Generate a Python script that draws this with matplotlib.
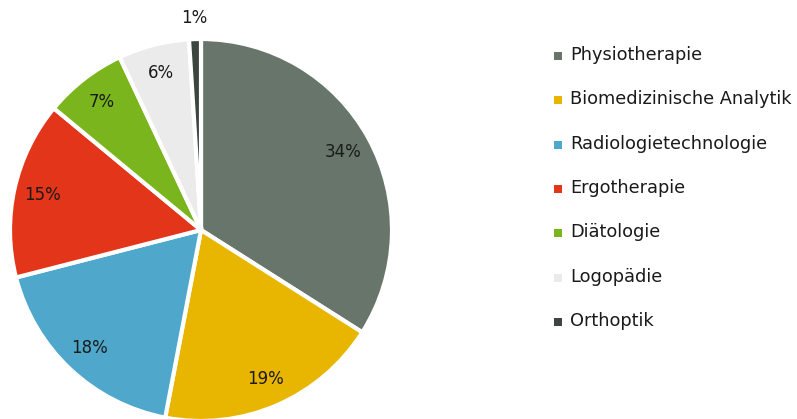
import matplotlib
matplotlib.use("Agg")
import matplotlib.pyplot as plt
from matplotlib.patches import Rectangle
import numpy as np

categories = ["Physiotherapie", "Biomedizinische Analytik", "Radiologietechnologie",
              "Ergotherapie", "Diätologie", "Logopädie", "Orthoptik"]
values = [34, 19, 18, 15, 7, 6, 1]
colors = ["#68756a", "#e8b500", "#4fa8cb", "#e33519", "#7ab51d", "#ebebeb", "#3d4540"]

plt.rcParams['font.family'] = ['DejaVu Sans']
W, H = 797, 419
fig = plt.figure(figsize=(W/100, H/100), dpi=100)

cx, cy, r = 201, 230, 191
ax = fig.add_axes([(cx - r)/W, (H - cy - r)/H, 2*r/W, 2*r/H])
wedges, texts, autotexts = ax.pie(
    values, colors=colors, startangle=90, counterclock=False,
    autopct=lambda p: f"{p:.0f}%", pctdistance=0.85,
    wedgeprops=dict(edgecolor="white", linewidth=3),
    textprops=dict(fontsize=12, color="#1a1a1a"))
for v, t in zip(values, autotexts):
    if v < 3:
        x, y = t.get_position()
        t.set_position((x * 1.11/0.85, y * 1.11/0.85))
ax.set_xlim(-1, 1)
ax.set_ylim(-1, 1)
ax.set_aspect('equal')
ax.axis('off')

# legend
top_baseline = 60
step = 44.3
for i, (name, c) in enumerate(zip(categories, colors)):
    yb = top_baseline + i*step
    fig.patches.append(Rectangle((554/W, (H - yb)/H), 8/W, 8/H, facecolor=c,
                                 edgecolor='none', transform=fig.transFigure))
    fig.text(570/W, (H - yb)/H, name, fontsize=12.8, color="#1a1a1a",
             ha='left', va='baseline')

fig.savefig("out.png", dpi=100)
